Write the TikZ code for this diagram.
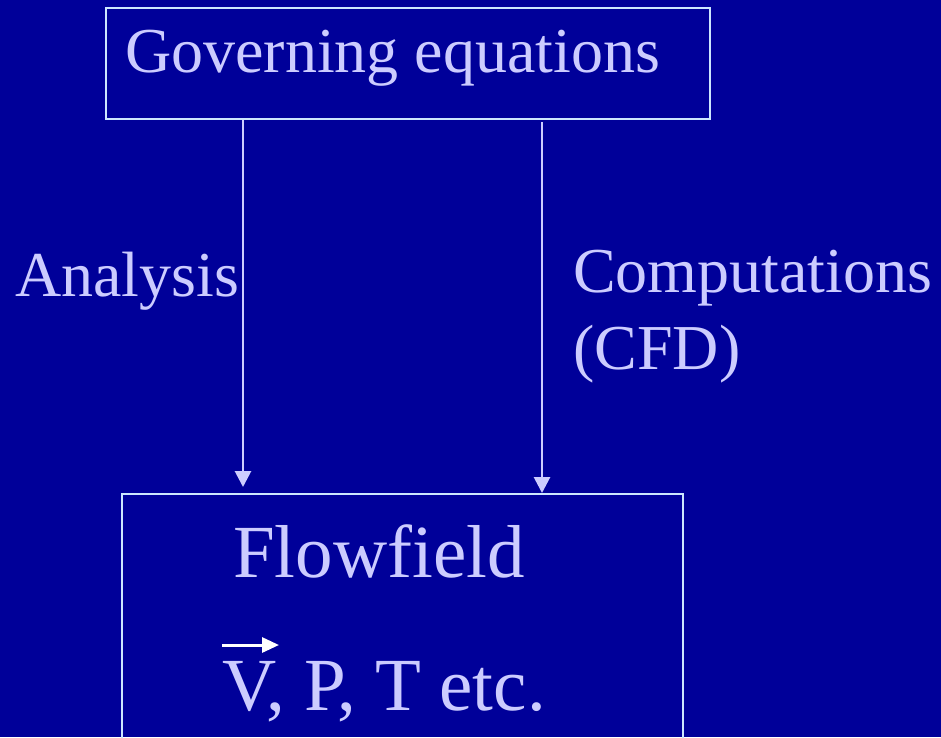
\documentclass[tikz,border=0pt]{standalone}
\usepackage{fontspec}
\setmainfont{Liberation Serif}
\usetikzlibrary{arrows.meta}
\definecolor{slidebg}{HTML}{000099}
\definecolor{slidefg}{HTML}{CCCCFF}
\definecolor{boxline}{HTML}{CCE6FF}
\tikzset{
  label text/.style = {text=slidefg, inner sep=0pt, anchor=base west,
    font=\fontsize{64}{77}\selectfont},
  big text/.style = {label text, font=\fontsize{75}{80}\selectfont},
  framebox/.style = {draw=boxline, line width=2.2pt, inner sep=0pt},
  flowarrow/.style = {draw=slidefg, line width=2.8pt,
    -{Triangle[width=16pt,length=16pt]}},
}
\begin{document}
\begin{tikzpicture}[x=1pt, y=-1pt]
  \fill[slidebg] (0,0) rectangle (941,737);
  \useasboundingbox (0,0) rectangle (941,737);

  % boxes
  \node[framebox, anchor=north west, minimum width=604pt, minimum height=111pt]
    (gov) at (105,7) {};
  \node[label text] (govtext) at (125,72) {Governing equations};
  \node[framebox, anchor=north west, minimum width=561pt, minimum height=300pt]
    (flow) at (121,493) {};

  % texts
  \node[label text] (ana) at (15,296) {Analysis};
  \node[label text] (comp) at (573,292) {Computations};
  \node[label text] (cfd) at (573,369) {(CFD)};
  \node[big text] (ff) at (233,577) {Flowfield};
  \node[big text] (vpt) at (222,710) {V, P, T etc.};

  % arrows
  \coordinate (tipL) at (243,487);
  \coordinate (startR) at (542,122);
  \draw[flowarrow] (gov.south -| tipL) -- (tipL);
  \draw[flowarrow] (startR) -- (flow.north -| startR);

  % vector arrow over V
  \draw[white, line width=3pt, -{Triangle[width=15pt,length=17pt]}]
    (vpt.base west) ++(0,-65) coordinate (vtail) -- ++(57,0);
\end{tikzpicture}
\end{document}
